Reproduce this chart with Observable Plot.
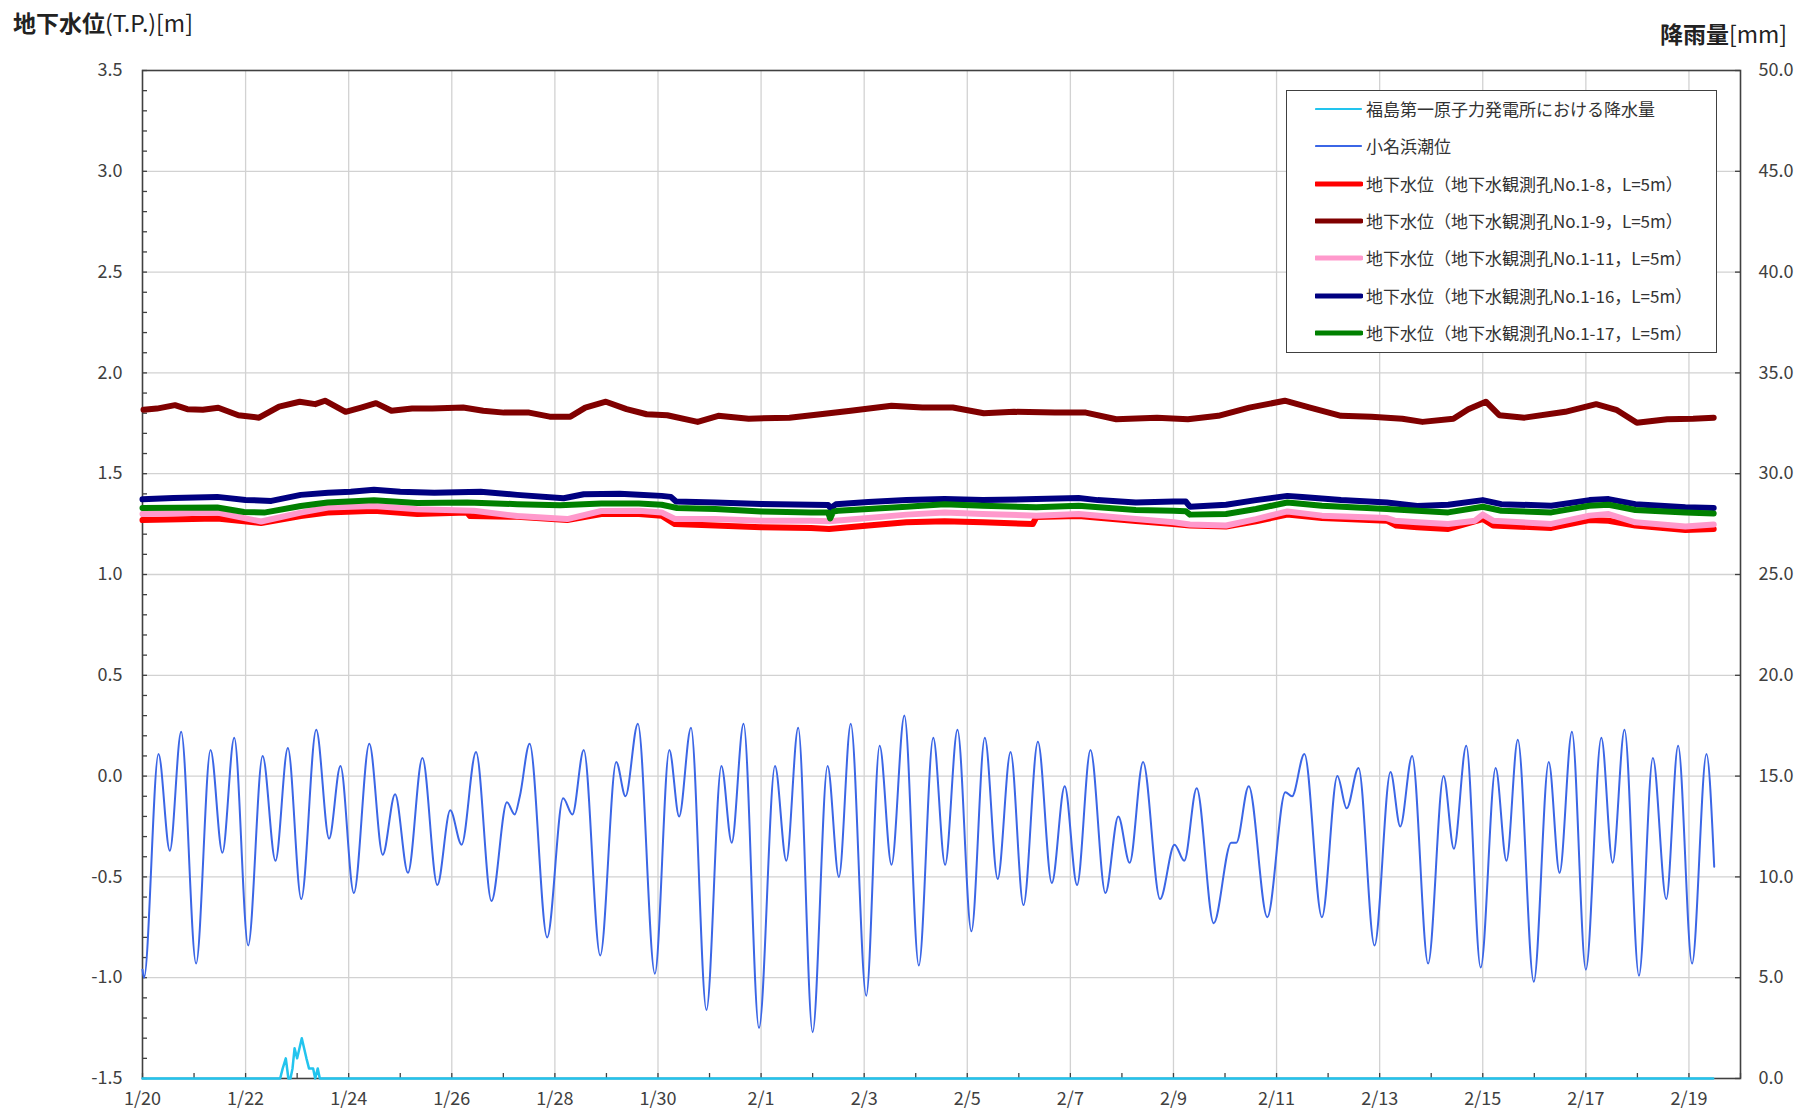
<!DOCTYPE html>
<html><head><meta charset="utf-8">
<script src="https://cdn.jsdelivr.net/npm/d3@7"></script>
<script src="https://cdn.jsdelivr.net/npm/@observablehq/plot@0.6"></script>
<style>
body{margin:0;background:#fff;}
#wrap{position:relative;width:1800px;height:1115px;font-family:"Noto Sans CJK JP",sans-serif;color:#333;overflow:hidden;}
.title{position:absolute;font-size:23px;white-space:nowrap;line-height:1;color:#222;}
.title b{font-weight:700;}
#legend{position:absolute;left:1286px;top:90px;width:431px;height:263px;border:1.5px solid #404040;background:#fff;box-sizing:border-box;}
.row{position:absolute;left:0;height:20px;font-size:17px;white-space:nowrap;line-height:20px;color:#333;}
.row svg{position:absolute;left:28px;top:0;}
.row span{position:absolute;left:79px;top:0;}
</style></head><body><div id="wrap"></div>
<script>
// ---- data (days since 2014-01-20 00:00) ----
const startDay = Date.UTC(2014, 0, 20);
const endDay = Date.UTC(2014, 1, 20);

// 小名浜潮位 [m] : highs / lows
const tideDay = [0.00,0.03,0.31,0.53,0.75,1.04,1.32,1.55,1.78,2.05,2.33,2.58,2.82,3.08,3.37,3.62,3.84,4.10,4.40,4.66,4.90,5.15,5.43,5.72,5.97,6.19,6.47,6.77,7.07,7.22,7.32,7.51,7.85,8.16,8.34,8.56,8.88,9.19,9.37,9.61,9.94,10.22,
10.41,10.64,10.94,11.23,11.43,11.66,11.96,12.27,12.49,12.72,13.00,13.29,13.51,13.74,14.04,14.30,14.53,14.78,15.06,15.34,15.57,15.81,16.08,16.34,16.59,16.84,17.09,17.37,17.64,17.89,18.13,18.39,18.68,18.93,19.15,19.41,19.74,20.02,20.21,20.45,
20.78,21.12,21.22,21.46,21.82,22.17,22.30,22.54,22.88,23.18,23.36,23.59,23.90,24.21,24.40,24.63,24.94,25.24,25.44,25.68,25.96,26.25,26.46,26.68,26.99,27.28,27.49,27.73,28.00,28.30,28.52,28.75,29.03,29.30,29.56,29.79,30.06,30.34,30.49];
const tideLevel = [-0.96,-1.00,0.11,-0.37,0.22,-0.93,0.13,-0.38,0.19,-0.84,0.10,-0.42,0.14,-0.61,0.23,-0.31,0.05,-0.58,0.16,-0.39,-0.09,-0.48,0.09,-0.54,-0.17,-0.34,0.12,-0.62,-0.13,-0.19,-0.10,0.16,-0.80,-0.11,-0.19,0.13,-0.89,0.07,-0.10,0.26,-0.98,0.13,
-0.20,0.24,-1.16,0.05,-0.33,0.26,-1.25,0.05,-0.42,0.24,-1.27,0.05,-0.50,0.26,-1.09,0.15,-0.44,0.30,-0.94,0.19,-0.44,0.23,-0.77,0.19,-0.51,0.12,-0.64,0.17,-0.53,-0.05,-0.54,0.13,-0.58,-0.20,-0.43,0.07,-0.61,-0.34,-0.42,-0.06,
-0.73,-0.33,-0.33,-0.05,-0.70,-0.08,-0.10,0.11,-0.70,0.00,-0.16,0.04,-0.84,0.02,-0.25,0.10,-0.93,0.00,-0.36,0.15,-0.95,0.04,-0.42,0.18,-1.02,0.07,-0.48,0.22,-0.96,0.19,-0.43,0.23,-0.99,0.09,-0.61,0.15,-0.93,0.11,-0.45];

// 福島第一原子力発電所における降水量 [mm]
const rainDay = [0,2.67,2.72,2.78,2.83,2.87,2.91,2.95,3.00,3.09,3.18,3.23,3.31,3.35,3.40,3.44,30.47];
const rainMM  = [0,0,0.5,1.0,0,0,0.5,1.5,1.0,2.0,1.0,0.5,0.5,0,0.5,0,0];

// 地下水位 [m] : [day, level]
const well1_8 = [[0,1.270],[1.45,1.278],[2.3,1.255],[3.07,1.290],[3.59,1.307],[4.49,1.316],[5.33,1.300],[6.3,1.307],[6.35,1.290],[7.27,1.286],[8.24,1.270],[8.9,1.300],[9.63,1.300],[10.07,1.292],[10.33,1.250],[11.11,1.243],[12.0,1.234],[12.97,1.231],[13.32,1.226],[14.08,1.243],[14.82,1.259],[15.56,1.264],[16.3,1.259],[17.27,1.250],[17.34,1.285],[18.16,1.290],[19.27,1.265],[20.0,1.251],[20.32,1.243],[21.02,1.238],[21.6,1.264],[22.21,1.297],[22.88,1.280],[24.14,1.267],[24.32,1.243],[24.73,1.234],[25.33,1.226],[26.0,1.275],[26.2,1.243],[27.33,1.231],[28.07,1.270],[28.44,1.267],[28.96,1.243],[29.93,1.221],[30.48,1.226]];
const well1_9 = [[0.02,1.817],[0.28,1.823],[0.63,1.840],[0.87,1.820],[1.17,1.817],[1.47,1.827],[1.86,1.790],[2.26,1.778],[2.65,1.833],[3.05,1.857],[3.35,1.845],[3.54,1.862],[3.94,1.807],[4.24,1.828],[4.53,1.850],[4.83,1.812],[5.23,1.823],[5.62,1.823],[6.22,1.828],[6.61,1.812],[7.01,1.803],[7.50,1.803],[7.90,1.783],[8.30,1.783],[8.59,1.828],[8.99,1.857],[9.39,1.820],[9.78,1.795],[10.18,1.790],[10.77,1.757],[11.17,1.787],[11.76,1.773],[12.55,1.778],[13.15,1.795],[13.74,1.812],[14.53,1.837],[15.13,1.828],[15.72,1.828],[16.32,1.800],[16.91,1.807],[17.70,1.803],[18.30,1.803],[18.89,1.770],[19.68,1.778],[20.28,1.770],[20.87,1.787],[21.47,1.828],[22.16,1.862],[22.65,1.828],[23.25,1.787],[23.84,1.783],[24.44,1.773],[24.83,1.757],[25.43,1.773],[25.72,1.820],[26.06,1.857],[26.32,1.790],[26.81,1.778],[27.60,1.807],[28.20,1.845],[28.59,1.817],[28.99,1.753],[29.58,1.770],[30.08,1.773],[30.48,1.778]];
const well1_11 = [[0,1.300],[1.45,1.307],[2.3,1.263],[3.07,1.307],[3.6,1.332],[4.49,1.340],[5.33,1.324],[6.43,1.316],[7.27,1.290],[8.24,1.275],[8.9,1.315],[9.63,1.316],[10.07,1.308],[10.33,1.275],[11.11,1.275],[12.0,1.267],[12.97,1.267],[13.32,1.264],[14.08,1.280],[14.82,1.297],[15.56,1.308],[16.3,1.300],[17.34,1.292],[18.16,1.300],[19.27,1.275],[20.0,1.259],[20.32,1.248],[21.02,1.243],[21.6,1.275],[22.21,1.313],[22.88,1.292],[24.14,1.280],[24.29,1.267],[24.73,1.259],[25.33,1.251],[25.85,1.267],[26.0,1.297],[26.2,1.267],[27.33,1.251],[28.07,1.292],[28.44,1.300],[28.96,1.259],[29.93,1.238],[30.48,1.248]];
const well1_16 = [[0,1.373],[0.6,1.380],[1.45,1.385],[2.0,1.370],[2.5,1.365],[3.07,1.395],[3.6,1.405],[4.04,1.410],[4.49,1.420],[5.0,1.410],[5.66,1.405],[6.56,1.410],[7.27,1.395],[8.17,1.378],[8.56,1.398],[9.26,1.400],[9.63,1.395],[10.07,1.390],[10.25,1.385],[10.35,1.362],[11.11,1.357],[12.0,1.350],[12.97,1.346],[13.30,1.345],[13.35,1.330],[13.45,1.348],[14.08,1.360],[14.82,1.370],[15.56,1.374],[16.3,1.370],[17.34,1.374],[18.16,1.379],[18.53,1.369],[19.27,1.357],[20.0,1.362],[20.24,1.362],[20.32,1.336],[21.02,1.346],[21.6,1.369],[22.21,1.390],[22.5,1.385],[23.25,1.369],[24.14,1.357],[24.73,1.340],[25.33,1.346],[26.0,1.369],[26.36,1.349],[27.33,1.341],[28.07,1.369],[28.44,1.374],[28.96,1.349],[29.93,1.333],[30.48,1.330]];
const well1_17 = [[0,1.330],[1.45,1.332],[1.97,1.310],[2.36,1.307],[3.07,1.340],[3.59,1.357],[4.49,1.368],[5.33,1.355],[6.3,1.357],[7.27,1.349],[8.1,1.344],[8.9,1.352],[9.63,1.352],[10.07,1.346],[10.37,1.330],[11.11,1.325],[12.0,1.313],[12.97,1.308],[13.30,1.308],[13.34,1.278],[13.40,1.312],[13.49,1.316],[14.08,1.325],[14.82,1.336],[15.56,1.349],[16.3,1.341],[17.34,1.333],[18.16,1.341],[19.27,1.320],[20.0,1.316],[20.24,1.314],[20.32,1.297],[21.02,1.300],[21.6,1.325],[22.21,1.357],[22.88,1.341],[24.14,1.325],[24.73,1.316],[25.33,1.308],[26.0,1.336],[26.36,1.316],[27.33,1.308],[28.07,1.341],[28.44,1.346],[28.96,1.320],[29.93,1.308],[30.48,1.303]];

const seriesNames = ["福島第一原子力発電所における降水量","小名浜潮位","地下水位（地下水観測孔No.1-8，L=5m）","地下水位（地下水観測孔No.1-9，L=5m）","地下水位（地下水観測孔No.1-11，L=5m）","地下水位（地下水観測孔No.1-16，L=5m）","地下水位（地下水観測孔No.1-17，L=5m）"];
const seriesColors = ["#22c4ee","#3b66e6","#ff0000","#800000","#ff99cc","#000080","#008000"];
const seriesWidths = [2.5,2,6,6,6,6,6];

const yMajor = [-1.5,-1.0,-0.5,0.0,0.5,1.0,1.5,2.0,2.5,3.0,3.5];
const yMinor = d3.range(-15, 36).map(i => i / 10);
const rainPerM = 10; // 50 mm over 5 m

// ---- build ----
const toDate = d => new Date(startDay + d * 864e5);
const tide = tideDay.map((d, i) => ({t: toDate(d), v: tideLevel[i]}));
const rain = rainDay.map((d, i) => ({t: toDate(d), v: -1.5 + rainMM[i] / rainPerM}));
const wells = [well1_8, well1_9, well1_11, well1_16, well1_17].map(a => a.map(([d, v]) => ({t: toDate(d), v})));
const days = d3.range(0, 32).map(toDate);
const labelDays = days.filter((d, i) => i % 2 === 0 && i <= 30);
const gridDays = labelDays.slice(1);

const W = 1800, H = 1115, mT = 70, mB = 37, mL = 142, mR = 60;
const pw = W - mL - mR, ph = H - mT - mB;
const tick = 5, ink = "#404040", gridC = "#d2d2d2";

const chart = Plot.plot({
  width: W, height: H, marginTop: mT, marginBottom: mB, marginLeft: mL, marginRight: mR,
  style: {fontFamily: "'Noto Sans CJK JP', sans-serif", fontSize: "18px", color: ink, background: "#fff"},
  x: {type: "utc", domain: [new Date(startDay), new Date(endDay)]},
  y: {domain: [-1.5, 3.5]},
  marks: [
    Plot.ruleY(yMajor.slice(1, -1), {stroke: gridC, strokeWidth: 1.3}),
    Plot.ruleX(gridDays, {stroke: gridC, strokeWidth: 1.3}),
    Plot.ruleY(yMinor, {stroke: ink, strokeWidth: 1.3, insetRight: pw - tick}),
    Plot.ruleY(yMajor, {stroke: ink, strokeWidth: 1.3, insetLeft: pw - tick}),
    Plot.ruleX(days, {stroke: ink, strokeWidth: 1.3, insetTop: ph - tick}),
    Plot.frame({stroke: ink, strokeWidth: 1.6}),
    Plot.line(rain, {x: "t", y: "v", stroke: seriesColors[0], strokeWidth: seriesWidths[0]}),
    Plot.line(tide, {x: "t", y: "v", stroke: seriesColors[1], strokeWidth: seriesWidths[1], curve: "monotone-x"}),
    ...wells.map((w, i) => Plot.line(w, {x: "t", y: "v", stroke: seriesColors[i + 2], strokeWidth: seriesWidths[i + 2], strokeLinejoin: "round"})),
    Plot.axisY(yMajor, {anchor: "left", label: null, tickSize: 0, tickPadding: 20, tickFormat: d => d.toFixed(1), fontSize: 18, fill: ink}),
    Plot.axisY(yMajor, {anchor: "right", label: null, tickSize: 0, tickPadding: 18, tickFormat: d => ((d + 1.5) * rainPerM).toFixed(1), fontSize: 18, fill: ink}),
    Plot.axisX(labelDays, {label: null, tickSize: 0, tickPadding: 14, tickFormat: d3.utcFormat("%-m/%-d"), fontSize: 18, fill: ink})
  ]
});

const wrap = document.getElementById("wrap");
wrap.appendChild(chart);

const t1 = document.createElement("div");
t1.className = "title"; t1.style.left = "13px"; t1.style.top = "11px";
t1.innerHTML = "<b>地下水位</b>(T.P.)[m]";
wrap.appendChild(t1);
const t2 = document.createElement("div");
t2.className = "title"; t2.style.left = "1660px"; t2.style.top = "22px";
t2.innerHTML = "<b>降雨量</b>[mm]";
wrap.appendChild(t2);

const legend = document.createElement("div");
legend.id = "legend";
seriesNames.forEach((name, i) => {
  const row = document.createElement("div");
  row.className = "row";
  row.style.top = (8 + i * 37.3) + "px";
  row.innerHTML = `<svg width="48" height="20"><line x1="1" x2="46" y1="10" y2="10" stroke="${seriesColors[i]}" stroke-width="${i < 2 ? 2.2 : 5}" stroke-linecap="round"/></svg><span>${name}</span>`;
  legend.appendChild(row);
});
wrap.appendChild(legend);
</script></body></html>
